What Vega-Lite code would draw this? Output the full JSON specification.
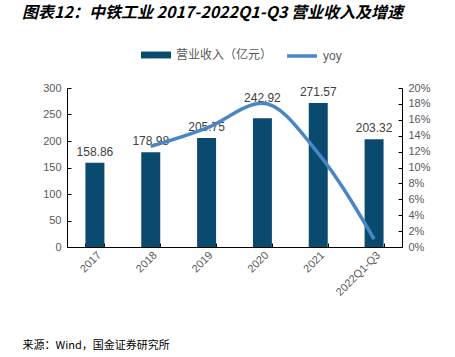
{
  "$schema": "https://vega.github.io/schema/vega-lite/v6.json",
  "width": 335,
  "height": 159,
  "autosize": {"type": "none"},
  "padding": {"left": 67, "top": 88, "right": 53, "bottom": 110},
  "background": "white",
  "config": {
    "view": {"stroke": null},
    "font": "Liberation Sans",
    "axis": {"labelColor": "#595959", "labelFontSize": 11, "domainColor": "#000000", "tickColor": "#000000", "grid": false, "labelOverlap": false}
  },
  "title": {
    "text": "图表12：中铁工业 2017-2022Q1-Q3 营业收入及增速",
    "anchor": "start",
    "frame": "group",
    "dx": -45,
    "offset": 18,
    "font": "Noto Sans CJK SC",
    "fontSize": 16,
    "fontStyle": "italic",
    "fontWeight": "bold",
    "color": "#000000"
  },
  "data": {
    "values": [
      {"year": "2017", "revenue": 158.86, "yoy": null},
      {"year": "2018", "revenue": 178.98, "yoy": 0.1267},
      {"year": "2019", "revenue": 205.75, "yoy": 0.1496},
      {"year": "2020", "revenue": 242.92, "yoy": 0.1807},
      {"year": "2021", "revenue": 271.57, "yoy": 0.1179},
      {"year": "2022Q1-Q3", "revenue": 203.32, "yoy": 0.01}
    ]
  },
  "encoding": {
    "x": {
      "field": "year",
      "type": "nominal",
      "sort": null,
      "scale": {"paddingInner": 0.66, "paddingOuter": 0.33},
      "axis": {
        "labelAngle": -45,
        "tickBand": "extent",
        "tickSize": -4,
        "labelPadding": 6,
        "title": "来源：Wind，国金证券研究所",
        "titleAnchor": "start",
        "titleX": -45,
        "titleY": 92,
        "titleFont": "Noto Sans CJK SC",
        "titleFontSize": 11,
        "titleFontWeight": "normal",
        "titleColor": "#000000",
        "titleAlign": "left"
      }
    }
  },
  "layer": [
    {
      "encoding": {
        "y": {
          "field": "revenue",
          "type": "quantitative",
          "scale": {"domain": [0, 300]},
          "axis": {"values": [0, 50, 100, 150, 200, 250, 300], "labelOverlap": false, "title": null, "tickSize": -4, "labelPadding": 10}
        }
      },
      "layer": [
        {
          "mark": {"type": "bar"},
          "encoding": {
            "color": {
              "datum": "营业收入（亿元）",
              "scale": {"range": ["#0B4A6F"]},
              "legend": {
                "orient": "none",
                "legendX": 73,
                "legendY": -49,
                "title": null,
                "symbolType": "M-1,-0.23H1V0.23H-1Z",
                "symbolSize": 900,
                "labelFontSize": 12,
                "labelColor": "#595959",
                "labelFont": "Noto Sans CJK SC"
              }
            }
          }
        },
        {
          "transform": [{"filter": "datum.year != '2020'"}],
          "mark": {"type": "text", "dy": -11, "fontSize": 12, "color": "#404040"},
          "encoding": {
            "text": {"field": "revenue", "type": "quantitative", "format": ".2f"}
          }
        },
        {
          "transform": [{"filter": "datum.year == '2020'"}],
          "mark": {"type": "text", "dy": -20, "fontSize": 12, "color": "#404040"},
          "encoding": {
            "text": {"field": "revenue", "type": "quantitative", "format": ".2f"}
          }
        }
      ]
    },
    {
      "transform": [{"filter": "datum.yoy != null"}],
      "mark": {"type": "line", "strokeWidth": 3.5, "interpolate": "monotone"},
      "encoding": {
        "y": {
          "field": "yoy",
          "type": "quantitative",
          "scale": {"domain": [0, 0.2]},
          "axis": {"orient": "right", "values": [0, 0.02, 0.04, 0.06, 0.08, 0.1, 0.12, 0.14, 0.16, 0.18, 0.2], "format": ".0%", "title": null, "tickSize": -4, "labelPadding": 10}
        },
        "stroke": {
          "datum": "yoy",
          "scale": {"range": ["#4A86C6"]},
          "legend": {
            "orient": "none",
            "legendX": 218,
            "legendY": -49,
            "title": null,
            "symbolType": "stroke",
            "symbolStrokeWidth": 3.5,
            "symbolSize": 900,
            "labelFontSize": 12,
            "labelColor": "#595959"
          }
        }
      }
    }
  ],
  "resolve": {"scale": {"y": "independent", "color": "independent"}}
}
